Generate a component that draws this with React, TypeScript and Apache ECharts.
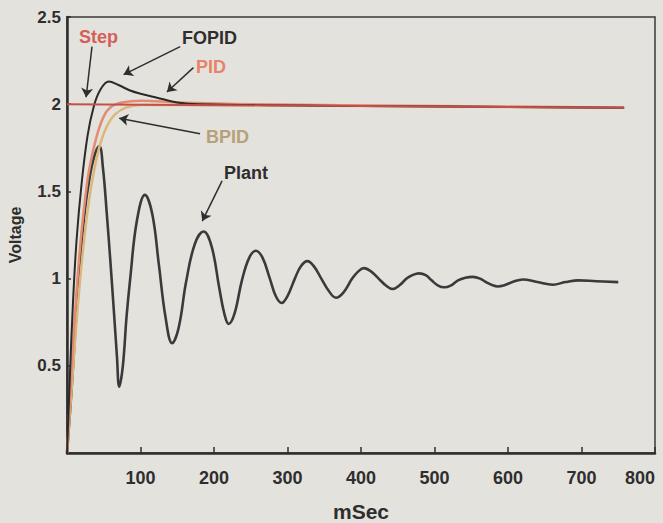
import React, { useEffect, useRef } from "react";
import * as echarts from "echarts";

// time (ms) / voltage pairs
const plantData: [number, number][] = [
  [0, 0], [6, 0.35], [12, 0.75], [18, 1.1], [24, 1.38], [30, 1.56], [37, 1.7], [44, 1.76],
  [49, 1.63], [54, 1.38], [59, 1.1], [64, 0.8], [68, 0.55], [71, 0.38], [76, 0.5],
  [81, 0.78], [86, 1.0], [95, 1.33], [106, 1.48], [116, 1.37], [125, 1.08], [134, 0.78],
  [143, 0.63], [152, 0.72], [162, 0.98], [174, 1.2], [186, 1.27], [197, 1.18], [207, 0.95],
  [214, 0.8], [220, 0.74], [228, 0.8], [238, 0.99], [248, 1.12], [257, 1.16], [266, 1.12],
  [276, 1.0], [284, 0.9], [292, 0.86], [300, 0.9], [310, 1.0], [318, 1.07], [327, 1.1],
  [336, 1.07], [346, 1.0], [356, 0.93], [366, 0.89], [376, 0.92], [388, 1.0], [396, 1.04],
  [404, 1.06], [414, 1.04], [424, 1.0], [434, 0.96], [443, 0.94], [452, 0.96], [462, 1.0],
  [470, 1.02], [479, 1.03], [488, 1.02], [496, 0.99], [505, 0.96], [513, 0.95], [522, 0.96],
  [532, 0.99], [542, 1.005], [552, 1.01], [562, 1.0], [572, 0.975], [580, 0.96], [586, 0.955],
  [594, 0.96], [606, 0.98], [620, 0.995], [640, 0.98], [661, 0.965], [678, 0.98], [696, 0.99],
  [720, 0.985], [750, 0.98],
];

const bpidData: [number, number][] = [
  [0, 0], [6, 0.35], [12, 0.7], [18, 1.0], [24, 1.25], [30, 1.45], [36, 1.6], [45, 1.77],
  [55, 1.88], [65, 1.94], [80, 1.98], [100, 1.995], [200, 1.995], [400, 1.99], [758, 1.98],
];

const pidData: [number, number][] = [
  [0, 0], [5, 0.38], [10, 0.74], [15, 1.04], [20, 1.28], [25, 1.47], [30, 1.62], [40, 1.81],
  [50, 1.93], [60, 1.985], [75, 2.01], [100, 2.02], [150, 2.01], [250, 2.0], [500, 1.99],
  [758, 1.98],
];

const fopidData: [number, number][] = [
  [0, 0], [4, 0.45], [8, 0.85], [13, 1.22], [20, 1.55], [28, 1.82], [36, 1.98], [45, 2.08],
  [57, 2.13], [70, 2.11], [85, 2.08], [100, 2.06], [120, 2.04], [150, 2.01], [180, 2.0],
  [400, 1.99], [758, 1.98],
];

const stepData: [number, number][] = [
  [0, 2], [758, 1.98],
];

const yTicks = [0.5, 1, 1.5, 2, 2.5];
const xTicks = [100, 200, 300, 400, 500, 600, 700, 800];

// annotation arrows: [tail, tip] in data units
const arrowStep: [number, number][] = [[34, 2.33], [26, 2.04]];
const arrowFopid: [number, number][] = [[154, 2.33], [77, 2.17]];
const arrowPid: [number, number][] = [[172, 2.21], [136, 2.07]];
const arrowBpid: [number, number][] = [[181, 1.83], [71, 1.92]];
const arrowPlant: [number, number][] = [[211, 1.56], [184, 1.33]];

const FONT = "'Liberation Sans', Arial, sans-serif";
const DARK = "#2e2e2e";

export default function App() {
  const ref = useRef<HTMLDivElement>(null);
  useEffect(() => {
    if (!ref.current) return;
    const chart = echarts.init(ref.current, null, { renderer: "svg" });
    const arrow = (pts: [number, number][]) => [
      { coord: pts[0], symbol: "none" },
      { coord: pts[1], symbol: "arrow" },
    ];
    chart.setOption({
      animation: false,
      backgroundColor: "#e4e2dd",
      grid: {
        left: 67, right: 8, top: 17, bottom: 70,
        outerBoundsMode: "none", containLabel: false,
        show: true, borderColor: "#3a3a3a", borderWidth: 1.5, backgroundColor: "transparent",
      },
      xAxis: {
        type: "value", min: 0, max: 800, interval: 100,
        name: "mSec", nameLocation: "middle", nameGap: 48,
        nameTextStyle: { fontFamily: FONT, fontWeight: "bold", fontSize: 21, color: DARK },
        axisLine: { lineStyle: { color: DARK, width: 2.5 } },
        axisTick: { inside: true, length: 6, lineStyle: { color: DARK, width: 1.5 } },
        splitLine: { show: false },
        axisLabel: {
          fontFamily: FONT, fontWeight: "bold", fontSize: 18, color: DARK, margin: 16,
          hideOverlap: false, alignMaxLabel: "right",
          formatter: (v: number) => (xTicks.includes(v) ? String(v) : ""),
        },
      },
      yAxis: {
        type: "value", min: 0, max: 2.5, interval: 0.5,
        name: "Voltage", nameLocation: "middle", nameGap: 44,
        nameTextStyle: { fontFamily: FONT, fontWeight: "bold", fontSize: 16, color: DARK },
        axisLine: { lineStyle: { color: DARK, width: 2.5 } },
        axisTick: { inside: true, length: 4, lineStyle: { color: DARK, width: 1.5 } },
        splitLine: { show: false },
        axisLabel: {
          fontFamily: FONT, fontWeight: "bold", fontSize: 17, color: DARK, margin: 6,
          formatter: (v: number) => (yTicks.includes(v) ? String(v) : ""),
        },
      },
      series: [
        {
          name: "Plant", type: "line", data: plantData, smooth: 0.4, showSymbol: false,
          lineStyle: { color: "#3a3a3a", width: 2.6 },
          markLine: {
            silent: true, symbolSize: 9,
            lineStyle: { color: DARK, width: 1.5, type: "solid" },
            label: { show: false },
            data: [arrow(arrowStep), arrow(arrowFopid), arrow(arrowPid), arrow(arrowBpid), arrow(arrowPlant)],
          },
        },
        {
          name: "BPID", type: "line", data: bpidData, smooth: 0.4, showSymbol: false,
          lineStyle: { color: "#dcb77c", width: 2.5 },
        },
        {
          name: "PID", type: "line", data: pidData, smooth: 0.4, showSymbol: false,
          lineStyle: { color: "#e38c72", width: 2.5 },
        },
        {
          name: "FOPID", type: "line", data: fopidData, smooth: 0.4, showSymbol: false,
          lineStyle: { color: "#2a2a2a", width: 2 },
        },
        {
          name: "Step", type: "line", data: stepData, showSymbol: false,
          lineStyle: { color: "#c4504c", width: 2 },
        },
      ],
      graphic: [
        { type: "text", left: 79, top: 28, style: { text: "Step", fill: "#d45f5a", font: `bold 18px ${FONT}` } },
        { type: "text", left: 182, top: 29, style: { text: "FOPID", fill: DARK, font: `bold 18px ${FONT}` } },
        { type: "text", left: 196, top: 58, style: { text: "PID", fill: "#e8836a", font: `bold 18px ${FONT}` } },
        { type: "text", left: 206, top: 128, style: { text: "BPID", fill: "#b5a27a", font: `bold 18px ${FONT}` } },
        { type: "text", left: 224, top: 164, style: { text: "Plant", fill: DARK, font: `bold 18px ${FONT}` } },
      ],
    });
    return () => chart.dispose();
  }, []);
  return <div ref={ref} style={{ width: 663, height: 523, position: "absolute", left: 0, top: 0 }} />;
}
